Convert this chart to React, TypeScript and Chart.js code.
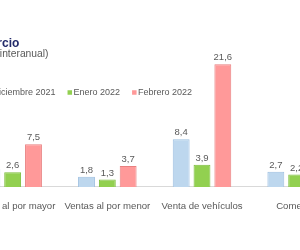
import React, { useEffect, useRef } from 'react';
import { Chart, registerables } from 'chart.js';

Chart.register(...registerables);

const categories = ['Ventas al por mayor', 'Ventas al por menor', 'Venta de vehículos', 'Comercio'];
const seriesNames = ['Diciembre 2021', 'Enero 2022', 'Febrero 2022'];
const dic2021 = [3.2, 1.8, 8.4, 2.7];
const ene2022 = [2.6, 1.3, 3.9, 2.2];
const feb2022 = [7.5, 3.7, 21.6, 6.9];
const titleText = 'Comercio';
const subtitleText = '(Var. % interanual)';

const FONT = '"Liberation Sans", Arial, sans-serif';
const GREY = '#595959';

const fillColors = ['#bdd7ee', '#92d050', '#ff9999'];
const borderColors = ['#9dbfe0', '#7cbd3c', '#e88080'];

const valueLabels = {
  id: 'valueLabels',
  afterDatasetsDraw(chart: any) {
    const ctx = chart.ctx;
    ctx.save();
    ctx.font = `9.5px ${FONT}`;
    ctx.fillStyle = GREY;
    ctx.textAlign = 'center';
    ctx.textBaseline = 'middle';
    chart.data.datasets.forEach((ds: any, i: number) => {
      const meta = chart.getDatasetMeta(i);
      meta.data.forEach((el: any, j: number) => {
        const v = ds.data[j];
        ctx.fillText(v.toFixed(1).replace('.', ','), el.x, el.y - 6.5);
      });
    });
    ctx.restore();
  },
};

const overlayLegend = {
  id: 'overlayLegend',
  afterDraw(chart: any, _args: any, opts: any) {
    const ctx = chart.ctx;
    ctx.save();
    ctx.font = `9px ${FONT}`;
    ctx.textBaseline = 'middle';
    ctx.textAlign = 'left';
    let x = opts.x;
    const y = opts.y;
    const box = 4.5;
    chart.data.datasets.forEach((ds: any) => {
      ctx.fillStyle = ds.backgroundColor;
      ctx.fillRect(x, y - box / 2, box, box);
      ctx.fillStyle = GREY;
      const tx = x + box + 1.5;
      ctx.fillText(ds.label, tx, y);
      x = tx + ctx.measureText(ds.label).width + 12;
    });
    ctx.restore();
  },
};

export default function App() {
  const ref = useRef<HTMLCanvasElement | null>(null);

  useEffect(() => {
    if (!ref.current) return;
    const series = [dic2021, ene2022, feb2022];
    const chart = new Chart(ref.current, {
      type: 'bar',
      data: {
        labels: categories,
        datasets: series.map((d, i) => ({
          label: seriesNames[i],
          data: d,
          backgroundColor: fillColors[i],
          borderColor: borderColors[i],
          borderWidth: 1,
          categoryPercentage: 0.66,
          barPercentage: 0.81,
        })),
      },
      options: {
        animation: false,
        responsive: true,
        maintainAspectRatio: false,
        layout: { padding: { left: 0, right: 0, top: 0, bottom: 31.5 } },
        scales: {
          x: {
            grid: { display: false },
            border: { display: true, color: '#d9d9d9', width: 1 },
            ticks: {
              color: GREY,
              font: { family: FONT, size: 9.6 },
              padding: 6,
              maxRotation: 0,
              autoSkip: false,
            },
          },
          y: {
            display: false,
            min: 0,
            max: 22,
          },
        },
        plugins: {
          legend: { display: false },
          tooltip: { enabled: false },
          title: {
            display: true,
            text: titleText,
            align: 'start',
            color: '#222a6a',
            font: { family: FONT, size: 12, weight: 'bold', lineHeight: 1 },
            padding: { top: 37.5, bottom: 0 },
          },
          subtitle: {
            display: true,
            text: subtitleText,
            align: 'start',
            color: GREY,
            font: { family: FONT, size: 10.3, lineHeight: 0.8 },
            padding: { top: 0.5, bottom: 3.7 },
          },
          overlayLegend: { x: 22.5, y: 92.5 },
        } as any,
      },
      plugins: [valueLabels, overlayLegend],
    });
    return () => chart.destroy();
  }, []);

  return (
    <div style={{ position: 'fixed', left: 0, top: 0, width: 300, height: 250, overflow: 'hidden', background: '#fff' }}>
      <div style={{ position: 'absolute', left: -36, top: 0, width: 380, height: 250 }}>
        <canvas ref={ref} />
      </div>
    </div>
  );
}
